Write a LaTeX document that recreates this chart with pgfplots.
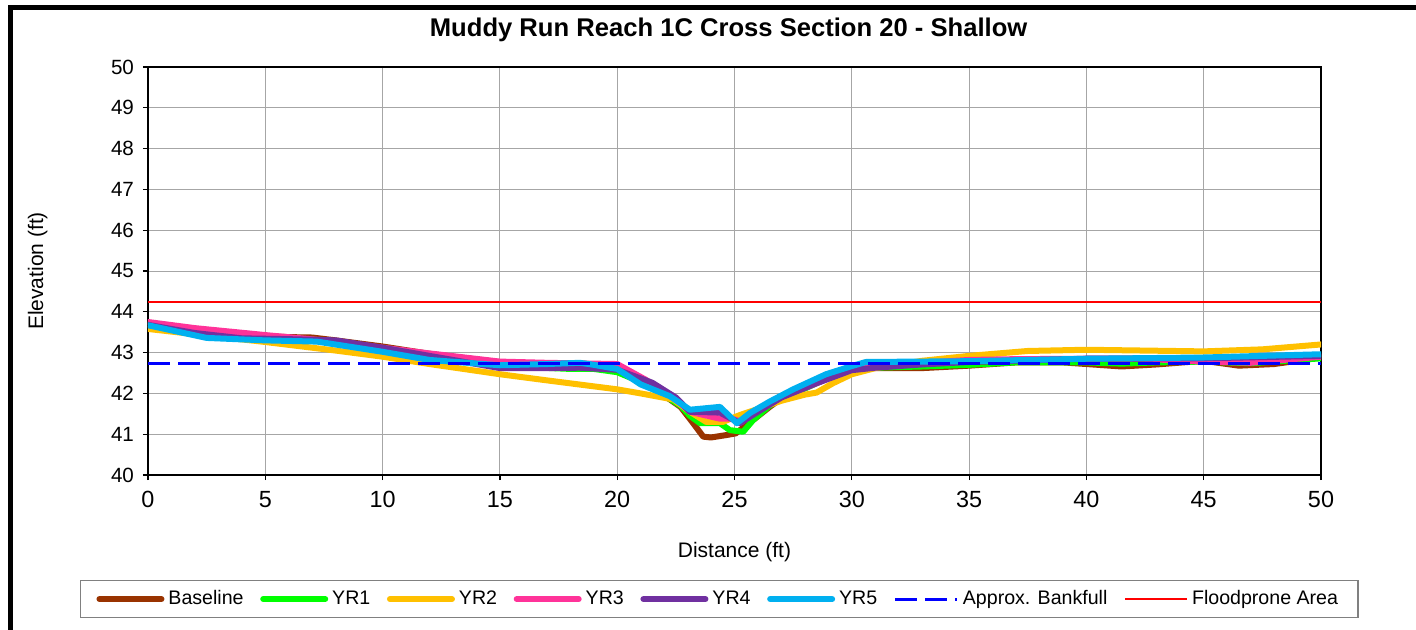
\documentclass[border=0pt]{standalone}
\usepackage{pgfplots}
\pgfplotsset{compat=1.18}
\usepackage{fontspec}
\setmainfont{Liberation Sans}
\definecolor{cBase}{HTML}{993300}
\definecolor{cY1}{HTML}{00FF00}
\definecolor{cY2}{HTML}{FFC000}
\definecolor{cY3}{HTML}{FF3399}
\definecolor{cY4}{HTML}{7030A0}
\definecolor{cY5}{HTML}{00B0F0}
\definecolor{cGrid}{HTML}{A6A6A6}
\begin{document}
\begin{tikzpicture}
\useasboundingbox (0,0) rectangle (708pt,314.5pt);
\draw[line width=2.6pt] (5.15pt,-2pt) -- (5.15pt,310.75pt) -- (712pt,310.75pt);
\begin{axis}[
  at={(74pt,77pt)}, anchor=south west,
  scale only axis, width=586.5pt, height=204pt,
  xmin=0, xmax=50, ymin=40, ymax=50,
  xtick distance=5, ytick distance=1,
  grid=major, major grid style={cGrid, line width=0.5pt},
  axis line style={line width=1pt},
  tick align=outside, major tick length=2.5pt,
  tick style={black, line width=0.6pt},
  xtick pos=bottom, ytick pos=left,
  /pgf/number format/assume math mode=true,
  xticklabel style={font=\fontsize{11.7}{13}\selectfont, yshift=-2pt},
  yticklabel style={font=\fontsize{10.3}{12}\selectfont, xshift=-1pt},
  xlabel={Distance (ft)}, ylabel={Elevation (ft)},
  xlabel style={at={(axis description cs:0.5,-0.19)}, anchor=center, font=\fontsize{10.5}{12}\selectfont},
  ylabel style={at={(axis description cs:-0.094,0.5)}, anchor=center, rotate=0, font=\fontsize{10.5}{12}\selectfont},
  title={Muddy Run Reach 1C Cross Section 20 - Shallow},
  title style={at={(axis description cs:0.495,1.061)}, anchor=center, font=\fontsize{12.8}{15}\selectfont\bfseries},
  legend columns=-1,
  legend style={at={(axis description cs:0.487,-0.257)}, anchor=north, draw=gray, line width=0.6pt,
    font=\fontsize{9.8}{12}\selectfont, inner xsep=8pt, inner ysep=3pt,
    /tikz/every even column/.append style={column sep=6.3pt}},
  legend image code/.code={\draw[#1] (0pt,0pt) -- (31pt,0pt);},
  every axis plot/.append style={line cap=round, line join=round},
]
\addplot[cBase, line width=3pt] coordinates {
(0,43.72) (2,43.55) (4,43.42) (6,43.38) (7,43.37) (8,43.3) (10,43.15) (12,42.97) (14,42.83) (16,42.7) (18,42.65) (19,42.65) (20,42.58) (21,42.3) (22,41.95) (22.7,41.67) (23.2,41.3) (23.67,40.94) (24.0,40.92) (24.66,40.98) (25.05,41.02) (25.8,41.35) (26.5,41.67) (27,41.88) (28,42.15) (29,42.4) (30,42.58) (31,42.62) (33,42.62) (35,42.68) (37,42.76) (39,42.76) (40,42.72) (41.5,42.66) (43,42.71) (45,42.8) (46.5,42.68) (48,42.72) (50,42.88)};
\addlegendentry{Baseline}
\addplot[cY1, line width=3pt] coordinates {
(0,43.7) (2,43.5) (4,43.38) (6,43.35) (8,43.28) (10,43.1) (12,42.92) (14,42.78) (16,42.65) (18,42.6) (19,42.6) (20,42.52) (21,42.28) (22,41.95) (22.7,41.7) (23.1,41.45) (23.53,41.27) (24.38,41.27) (24.8,41.1) (25.37,41.06) (25.8,41.35) (26.5,41.7) (27,41.88) (28,42.12) (29,42.38) (30,42.58) (31,42.63) (33,42.66) (35,42.7) (37,42.76) (40,42.76) (41.5,42.73) (43,42.76) (45,42.78) (47,42.74) (50,42.86)};
\addlegendentry{YR1}
\addplot[cY2, line width=3pt] coordinates {
(0,43.58) (2,43.45) (5,43.26) (8,43.05) (10,42.9) (12,42.72) (15,42.47) (17,42.32) (20,42.1) (21,42.0) (22.4,41.85) (23.1,41.55) (23.8,41.3) (24.5,41.3) (25.23,41.47) (26,41.62) (27,41.82) (28,41.97) (28.5,42.02) (29.2,42.25) (30,42.47) (31,42.62) (33,42.8) (35,42.92) (37.5,43.04) (40,43.07) (42.5,43.05) (45,43.03) (47.5,43.08) (50,43.2)};
\addlegendentry{YR2}
\addplot[cY3, line width=3pt] coordinates {
(0,43.75) (2,43.6) (5,43.43) (7.5,43.3) (10,43.12) (12,42.98) (15,42.78) (17,42.75) (20,42.72) (21.2,42.34) (22.3,41.95) (23.1,41.55) (24.38,41.38) (24.9,41.38) (25.3,41.3) (26,41.6) (27,41.92) (28.5,42.25) (30,42.6) (31,42.66) (33,42.75) (35,42.82) (37,42.84) (40,42.85) (42.5,42.85) (44,42.8) (47,42.75) (50,42.9)};
\addlegendentry{YR3}
\addplot[cY4, line width=3pt] coordinates {
(0,43.68) (2,43.48) (4,43.35) (6,43.33) (8,43.3) (10,43.12) (12,42.92) (15,42.62) (17,42.62) (18.4,42.63) (20,42.58) (21.5,42.26) (22.5,41.9) (23.1,41.55) (24.38,41.53) (25.23,41.27) (26,41.55) (27,41.9) (28.5,42.25) (30,42.57) (31,42.63) (33,42.71) (35,42.77) (40,42.85) (45,42.86) (50,42.92)};
\addlegendentry{YR4}
\addplot[cY5, line width=3pt] coordinates {
(0,43.67) (2.5,43.36) (5,43.3) (7.2,43.27) (10,43.02) (12,42.82) (15,42.69) (17,42.72) (18.4,42.75) (18.8,42.72) (20,42.6) (21,42.22) (22.25,41.93) (23.1,41.6) (24.38,41.67) (25.1,41.27) (25.66,41.52) (26.5,41.8) (27.5,42.1) (28.9,42.47) (30,42.67) (30.6,42.77) (35,42.79) (40,42.85) (45,42.88) (50,42.96)};
\addlegendentry{YR5}
\addplot[blue, line width=1.5pt, dash pattern=on 11pt off 4pt, line cap=butt] coordinates {(0,42.73) (50,42.73)};
\addlegendentry{Approx. Bankfull}
\addplot[red, line width=1pt, line cap=butt] coordinates {(0,44.24) (50,44.24)};
\addlegendentry{Floodprone Area}
\end{axis}
\end{tikzpicture}
\end{document}
